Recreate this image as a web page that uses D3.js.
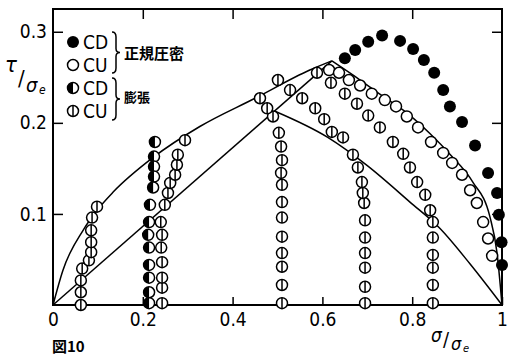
<!DOCTYPE html>
<html><head><meta charset="utf-8">
<script src="https://cdn.jsdelivr.net/npm/d3@7"></script>
<style>
html,body{margin:0;padding:0;background:#fff;}
svg{display:block;}
text{font-family:"Liberation Sans Narrow","DejaVu Sans Condensed","Liberation Sans",sans-serif;fill:#000;}
.cjk{font-family:"Noto Sans CJK JP","Noto Sans CJK SC",sans-serif;font-weight:700;}
</style></head>
<body><svg id="c" width="508" height="355"></svg>
<script>
// ---------- data (x = σ/σe, y = τ/σe) ----------
const xTicks = [0, 0.2, 0.4, 0.6, 0.8, 1];
const xTickLabels = ["0", "0.2", "0.4", "0.6", "0.8", "1"];
const yTicks = [0.1, 0.2, 0.3];
const yTickLabels = ["0.1", "0.2", "0.3"];

// Normally consolidated, CD (filled)
const cdNormal = [[0.650,0.271],[0.673,0.280],[0.702,0.289],[0.733,0.296],[0.773,0.290],[0.802,0.281],[0.826,0.269],[0.849,0.255],[0.869,0.236],[0.884,0.218],[0.911,0.201],[0.940,0.175],[0.969,0.145],[0.989,0.123],[0.993,0.099],[0.999,0.069],[1.0,0.044]];
// Normally consolidated, CU (open)
const cuNormal = [[0.615,0.258],[0.637,0.255],[0.659,0.247],[0.684,0.241],[0.710,0.232],[0.739,0.225],[0.764,0.218],[0.788,0.207],[0.813,0.195],[0.842,0.179],[0.869,0.167],[0.889,0.156],[0.911,0.143],[0.929,0.126],[0.944,0.112],[0.958,0.091],[0.969,0.073],[0.978,0.054]];
// Swelled (over-consolidated), CD (half filled)
const cdSwell = [[0.227,0.179],[0.225,0.163],[0.225,0.152],[0.225,0.141],[0.223,0.129],[0.216,0.110],[0.214,0.091],[0.212,0.077],[0.214,0.063],[0.214,0.044],[0.214,0.030],[0.214,0.014],[0.214,0.002]];
// Swelled, CU (barred circle) — several stress paths
const cuSwell1 = [[0.062,0.000],[0.062,0.014],[0.062,0.027],[0.065,0.040],[0.080,0.049],[0.085,0.058],[0.085,0.069],[0.085,0.082],[0.087,0.096],[0.098,0.108]];
const cuSwell2 = [[0.243,0.002],[0.243,0.019],[0.243,0.030],[0.243,0.047],[0.241,0.063],[0.243,0.077],[0.240,0.091],[0.249,0.110],[0.256,0.123],[0.261,0.134],[0.272,0.143],[0.276,0.154],[0.278,0.165],[0.294,0.181]];
const cuSwell3 = [[0.510,0.002],[0.510,0.022],[0.510,0.042],[0.510,0.057],[0.510,0.075],[0.510,0.096],[0.510,0.113],[0.510,0.132],[0.508,0.145],[0.510,0.159],[0.508,0.174],[0.503,0.189],[0.490,0.207],[0.477,0.216],[0.461,0.227]];
const cuSwell4 = [[0.695,0.002],[0.695,0.020],[0.695,0.041],[0.695,0.057],[0.695,0.074],[0.695,0.093],[0.693,0.112],[0.690,0.123],[0.688,0.135],[0.679,0.151],[0.668,0.165],[0.646,0.184],[0.621,0.190],[0.604,0.204],[0.584,0.216],[0.555,0.227],[0.528,0.236],[0.501,0.247]];
const cuSwell5 = [[0.846,0.002],[0.846,0.022],[0.846,0.041],[0.846,0.055],[0.846,0.074],[0.846,0.091],[0.840,0.104],[0.829,0.121],[0.811,0.135],[0.795,0.151],[0.780,0.166],[0.757,0.179],[0.728,0.195],[0.702,0.208],[0.677,0.221],[0.650,0.232],[0.619,0.244],[0.588,0.255]];

// Boundary curves
const curveUpper = [[0,0],[0.022,0.038],[0.067,0.082],[0.098,0.104],[0.134,0.124],[0.223,0.162],[0.327,0.196],[0.45,0.227],[0.572,0.258],[0.621,0.268]];
const curveCap = [[0.621,0.268],[0.684,0.247],[0.735,0.229],[0.788,0.211],[0.84,0.188],[0.885,0.165],[0.935,0.135],[0.973,0.097],[0.989,0.057],[1.0,0.0]];
const lineStraight = [[0,0],[0.621,0.268]];
const curveLower = [[0.493,0.213],[0.612,0.184],[0.70,0.153],[0.795,0.113],[0.862,0.084],[0.929,0.045],[1.0,0.0]];

// Legend
const legendLabels = ["CD", "CU", "CD", "CU"];
const legendKinds = ["filled", "open", "half", "bar"];
const groupLabels = ["正規圧密", "膨張"];

// ---------- drawing ----------
const svg = d3.select("#c");
const x = d3.scaleLinear().domain([0, 1]).range([53, 502]);
const y = d3.scaleLinear().domain([0, 0.325]).range([305, 9]);
const R = 5.5;

const line = d3.line().x(d => x(d[0])).y(d => y(d[1]));
const lineSmooth = d3.line().x(d => x(d[0])).y(d => y(d[1])).curve(d3.curveMonotoneX);

// curves
const g = svg.append("g").attr("fill", "none").attr("stroke", "#000").attr("stroke-width", 1.5);
g.append("path").attr("d", lineSmooth(curveUpper));
g.append("path").attr("d", lineSmooth(curveCap));
g.append("path").attr("d", line(lineStraight));
g.append("path").attr("d", lineSmooth(curveLower));

// frame
svg.append("rect").attr("x", x(0)).attr("y", y(0.325)).attr("width", x(1) - x(0)).attr("height", y(0) - y(0.325))
  .attr("fill", "none").attr("stroke", "#000").attr("stroke-width", 2);

// axes
const ax = svg.append("g").attr("transform", `translate(0,${y(0)})`)
  .call(d3.axisBottom(x).tickValues(xTicks).tickFormat((d, i) => xTickLabels[i]).tickSizeInner(-8).tickSizeOuter(0).tickPadding(8));
ax.select(".domain").remove();
ax.selectAll("line").attr("stroke-width", 1.5);
ax.selectAll("text").attr("font-size", 19).attr("font-family", null);

const ay = svg.append("g").attr("transform", `translate(${x(0)},0)`)
  .call(d3.axisLeft(y).tickValues(yTicks).tickFormat((d, i) => yTickLabels[i]).tickSizeInner(-10).tickSizeOuter(0).tickPadding(6));
ay.select(".domain").remove();
ay.selectAll("line").attr("stroke-width", 1.5);
ay.selectAll("text").attr("font-size", 19).attr("font-family", null);

const at = svg.append("g").attr("transform", `translate(0,${y(0.325)})`)
  .call(d3.axisTop(x).tickValues(xTicks.slice(1, -1)).tickFormat("").tickSizeInner(-10).tickSizeOuter(0));
at.select(".domain").remove();
at.selectAll("line").attr("stroke-width", 1.5);

const ar = svg.append("g").attr("transform", `translate(${x(1)},0)`)
  .call(d3.axisRight(y).tickValues(yTicks).tickFormat("").tickSizeInner(-10).tickSizeOuter(0));
ar.select(".domain").remove();
ar.selectAll("line").attr("stroke-width", 1.5);

// symbol drawing
const halfArc = d3.arc().innerRadius(0).outerRadius(R).startAngle(Math.PI).endAngle(2 * Math.PI);
function drawSymbol(sel, kind) {
  if (kind === "filled") {
    sel.append("circle").attr("r", R + 0.5).attr("fill", "#000");
    return;
  }
  sel.append("circle").attr("r", R).attr("fill", "#fff").attr("stroke", "#000").attr("stroke-width", 1.5);
  if (kind === "half") sel.append("path").attr("d", halfArc()).attr("fill", "#000");
  if (kind === "bar") sel.append("line").attr("x1", 0).attr("x2", 0).attr("y1", -R).attr("y2", R).attr("stroke", "#000").attr("stroke-width", 1.5);
}
function plotSeries(data, kind) {
  svg.append("g").selectAll("g").data(data).join("g")
    .attr("transform", d => `translate(${x(d[0])},${y(d[1])})`)
    .each(function () { drawSymbol(d3.select(this), kind); });
}
plotSeries(cuSwell1, "bar");
plotSeries(cuSwell2, "bar");
plotSeries(cuSwell3, "bar");
plotSeries(cuSwell4, "bar");
plotSeries(cuSwell5, "bar");
plotSeries(cdSwell, "half");
plotSeries(cuNormal, "open");
plotSeries(cdNormal, "filled");

// legend
const rowY = [42, 65, 88, 111];
const lg = svg.append("g");
legendKinds.forEach((k, i) => {
  const s = lg.append("g").attr("transform", `translate(73,${rowY[i]})`);
  drawSymbol(s, k);
  lg.append("text").attr("x", 83).attr("y", rowY[i] + 7).attr("font-size", 19).text(legendLabels[i]);
});
// braces
function brace(x0, y0, y1) {
  const m = (y0 + y1) / 2;
  return `M${x0},${y0} Q${x0 + 4},${y0} ${x0 + 4},${y0 + 5} L${x0 + 4},${m - 4} Q${x0 + 4},${m} ${x0 + 8},${m} Q${x0 + 4},${m} ${x0 + 4},${m + 4} L${x0 + 4},${y1 - 5} Q${x0 + 4},${y1} ${x0},${y1}`;
}
lg.append("path").attr("d", brace(112, 32, 73)).attr("fill", "none").attr("stroke", "#000").attr("stroke-width", 1.5);
lg.append("path").attr("d", brace(112, 78, 120)).attr("fill", "none").attr("stroke", "#000").attr("stroke-width", 1.5);
lg.append("text").attr("class", "cjk").attr("x", 124).attr("y", 59).attr("font-size", 15).text(groupLabels[0]);
lg.append("text").attr("class", "cjk").attr("x", 124).attr("y", 102).attr("font-size", 13).text(groupLabels[1]);

// axis titles
const yt = svg.append("g").attr("font-style", "italic");
yt.append("text").attr("x", 5).attr("y", 72).attr("font-size", 22).text("τ");
yt.append("text").attr("x", 18).attr("y", 86).attr("font-size", 22).attr("font-style", "normal").text("/");
yt.append("text").attr("x", 26).attr("y", 92).attr("font-size", 20).text("σ");
yt.append("text").attr("x", 39).attr("y", 94).attr("font-size", 12).text("e");

const xt = svg.append("g").attr("font-style", "italic");
xt.append("text").attr("x", 431).attr("y", 342).attr("font-size", 19).text("σ");
xt.append("text").attr("x", 443).attr("y", 346).attr("font-size", 20).attr("font-style", "normal").text("/");
xt.append("text").attr("x", 451).attr("y", 350).attr("font-size", 18).text("σ");
xt.append("text").attr("x", 463).attr("y", 352).attr("font-size", 11).text("e");

svg.append("text").attr("class", "cjk").attr("x", 52).attr("y", 352).attr("font-size", 15).text("図10");
</script></body></html>
